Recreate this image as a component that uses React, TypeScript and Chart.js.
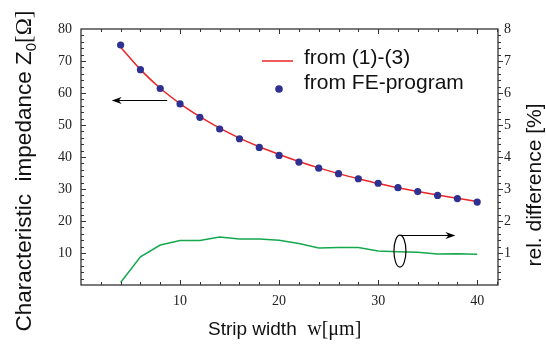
import React, { useEffect, useRef } from "react";
import { Chart, registerables } from "chart.js";

Chart.register(...registerables);

// Strip width w [µm]
const widths = [4, 6, 8, 10, 12, 14, 16, 18, 20, 22, 24, 26, 28, 30, 32, 34, 36, 38, 40];
// Z0 from FE-program [Ω]
const feImpedance = [75.0, 67.3, 61.4, 56.6, 52.4, 48.75, 45.7, 43.0, 40.5, 38.4, 36.5, 34.8, 33.2, 31.8, 30.4, 29.2, 28.0, 27.0, 25.9];
// Z0 from (1)-(3) [Ω]
const formulaImpedance = [74.3, 67.3, 61.5, 56.7, 52.6, 49.0, 45.9, 43.2, 40.8, 38.6, 36.6, 34.8, 33.2, 31.7, 30.4, 29.2, 28.1, 27.1, 26.1];
// relative difference [%]
const relDifference = [0.08, 0.88, 1.25, 1.39, 1.39, 1.5, 1.44, 1.44, 1.4, 1.3, 1.16, 1.17, 1.17, 1.06, 1.04, 1.02, 0.97, 0.98, 0.96];

const xTickLabels = [10, 20, 30, 40];
const leftTickLabels = [10, 20, 30, 40, 50, 60, 70, 80];
const rightTickLabels = [1, 2, 3, 4, 5, 6, 7, 8];

// annotation anchors (data units)
const leftArrow = { from: 8.7, to: 3.1, y: 57.8 };
const rightArrow = { x: 32.2, to: 37.8, y: 1.56 };
const ellipseAnchor = { x: 32.2, y: 1.06 };

const RED = "#ec2427";
const BLUE = "#2e3192";
const GREEN = "#16a84e";
const FRAME = "#333333";

function arrowHead(ctx: CanvasRenderingContext2D, x: number, y: number, dir: number) {
  ctx.beginPath();
  ctx.moveTo(x, y);
  ctx.lineTo(x - dir * 10, y - 3.5);
  ctx.lineTo(x - dir * 7, y);
  ctx.lineTo(x - dir * 10, y + 3.5);
  ctx.closePath();
  ctx.fill();
}

const decorPlugin = {
  id: "decor",
  afterDraw(chart: any) {
    const ctx: CanvasRenderingContext2D = chart.ctx;
    const { left, right, top, bottom } = chart.chartArea;
    const sx = chart.scales.x;
    const sy = chart.scales.y;
    const sy2 = chart.scales.y2;
    ctx.save();
    // frame
    ctx.strokeStyle = FRAME;
    ctx.lineWidth = 1.3;
    ctx.strokeRect(left, top, right - left, bottom - top);
    ctx.lineWidth = 1;
    ctx.beginPath();
    for (let v = 2; v <= 42; v += 2) {
      const px = Math.round(sx.getPixelForValue(v)) + 0.5;
      const len = v % 10 === 0 ? 5 : 3;
      ctx.moveTo(px, bottom);
      ctx.lineTo(px, bottom - len);
      ctx.moveTo(px, top);
      ctx.lineTo(px, top + len);
    }
    for (let v = 2; v < 80; v += 2) {
      const py = Math.round(sy.getPixelForValue(v)) + 0.5;
      const len = v % 10 === 0 ? 5 : 3;
      ctx.moveTo(left, py);
      ctx.lineTo(left + len, py);
    }
    for (let i = 1; i < 40; i++) {
      const v = i * 0.2;
      const py = Math.round(sy2.getPixelForValue(v)) + 0.5;
      const len = i % 5 === 0 ? 5 : 3;
      ctx.moveTo(right, py);
      ctx.lineTo(right + len, py);
    }
    ctx.stroke();

    // annotations
    ctx.strokeStyle = "#000";
    ctx.fillStyle = "#000";
    ctx.lineWidth = 1.2;
    const la0 = sx.getPixelForValue(leftArrow.from);
    const la1 = sx.getPixelForValue(leftArrow.to);
    const lay = Math.round(sy.getPixelForValue(leftArrow.y)) + 0.5;
    ctx.beginPath();
    ctx.moveTo(la0, lay);
    ctx.lineTo(la1 + 6, lay);
    ctx.stroke();
    arrowHead(ctx, la1, lay, -1);

    const ex = sx.getPixelForValue(ellipseAnchor.x);
    const ey = sy2.getPixelForValue(ellipseAnchor.y);
    ctx.beginPath();
    ctx.ellipse(ex, ey, 6, 16, 0, 0, Math.PI * 2);
    ctx.stroke();
    const ra0 = sx.getPixelForValue(rightArrow.x);
    const ra1 = sx.getPixelForValue(rightArrow.to);
    const ray = Math.round(sy2.getPixelForValue(rightArrow.y)) + 0.5;
    ctx.beginPath();
    ctx.moveTo(ra0, ray);
    ctx.lineTo(ra1 - 6, ray);
    ctx.stroke();
    arrowHead(ctx, ra1, ray, 1);

    // legend
    ctx.strokeStyle = RED;
    ctx.lineWidth = 1.5;
    ctx.beginPath();
    ctx.moveTo(262, 61);
    ctx.lineTo(293, 61);
    ctx.stroke();
    ctx.fillStyle = BLUE;
    ctx.beginPath();
    ctx.arc(279, 89, 3.8, 0, Math.PI * 2);
    ctx.fill();
    ctx.fillStyle = "#111";
    ctx.font = "21px 'Liberation Sans', Arial, sans-serif";
    ctx.textAlign = "left";
    ctx.textBaseline = "alphabetic";
    ctx.fillText("from (1)-(3)", 304, 64);
    ctx.fillText("from FE-program", 304, 89);

    // x title
    ctx.font = "19px 'Liberation Sans', Arial, sans-serif";
    ctx.fillStyle = "#111";
    const t1 = "Strip width  ";
    ctx.fillText(t1, 208, 335);
    const w1 = ctx.measureText(t1).width;
    ctx.font = "20px 'Liberation Serif', 'Times New Roman', serif";
    ctx.fillText("w[μm]", 208 + w1, 335);

    // left title (rotated)
    ctx.save();
    ctx.translate(31, 0);
    ctx.rotate(-Math.PI / 2);
    const parts: [string, string, number][] = [
      ["Characteristic  impedance Z", "22.5px 'Liberation Sans', Arial, sans-serif", 0],
      ["0", "15px 'Liberation Sans', Arial, sans-serif", 5],
      ["[Ω]", "23px 'Liberation Serif', 'Times New Roman', serif", 0],
    ];
    let total = 0;
    for (const [t, f] of parts) {
      ctx.font = f;
      total += ctx.measureText(t).width;
    }
    let pos = -171 - total / 2;
    for (const [t, f, dy] of parts) {
      ctx.font = f;
      ctx.fillText(t, pos, dy);
      pos += ctx.measureText(t).width;
    }
    ctx.restore();

    // right title (rotated)
    ctx.save();
    ctx.translate(541, 0);
    ctx.rotate(-Math.PI / 2);
    ctx.font = "21px 'Liberation Sans', Arial, sans-serif";
    ctx.textAlign = "center";
    ctx.fillText("rel. difference [%]", -185, 0);
    ctx.restore();

    ctx.restore();
  },
};

export default function App() {
  const ref = useRef<HTMLCanvasElement>(null);
  useEffect(() => {
    if (!ref.current) return;
    const tickFont = { family: "'Liberation Serif', 'Times New Roman', serif", size: 14 };
    const chart = new Chart(ref.current, {
      type: "line",
      data: {
        labels: widths,
        datasets: [
          {
            label: "from (1)-(3)",
            data: widths.map((w, i) => ({ x: w, y: formulaImpedance[i] })),
            borderColor: RED,
            borderWidth: 1.5,
            pointRadius: 0,
            cubicInterpolationMode: "monotone",
            yAxisID: "y",
            order: 2,
          },
          {
            label: "from FE-program",
            data: widths.map((w, i) => ({ x: w, y: feImpedance[i] })),
            showLine: false,
            pointRadius: 3.6,
            pointBackgroundColor: BLUE,
            pointBorderColor: BLUE,
            pointBorderWidth: 0,
            yAxisID: "y",
            order: 1,
          },
          {
            label: "rel. difference",
            data: widths.map((w, i) => ({ x: w, y: relDifference[i] })),
            borderColor: GREEN,
            borderWidth: 1.5,
            pointRadius: 0,
            tension: 0,
            yAxisID: "y2",
            order: 3,
          },
        ],
      },
      options: {
        responsive: false,
        animation: false,
        layout: { padding: { top: 29, left: 0, right: 0, bottom: 0 } },
        plugins: { legend: { display: false }, tooltip: { enabled: false } },
        scales: {
          x: {
            type: "linear",
            min: 0,
            max: 42.1,
            grid: { display: false, drawTicks: false },
            border: { display: false },
            ticks: {
              stepSize: 10,
              includeBounds: false,
              padding: 8,
              font: tickFont,
              color: "#222",
              maxRotation: 0,
              callback: (v: any) => (xTickLabels.includes(Number(v)) ? String(v) : ""),
            },
            afterFit: (s: any) => {
              s.height = 59;
            },
          },
          y: {
            position: "left",
            min: 0,
            max: 80,
            grid: { display: false, drawTicks: false },
            border: { display: false },
            ticks: {
              stepSize: 10,
              padding: 9,
              font: tickFont,
              color: "#222",
              callback: (v: any) => (leftTickLabels.includes(Number(v)) ? String(v) : ""),
            },
            afterFit: (s: any) => {
              s.width = 81;
            },
          },
          y2: {
            position: "right",
            min: 0,
            max: 8,
            grid: { display: false, drawTicks: false },
            border: { display: false },
            ticks: {
              stepSize: 1,
              padding: 6,
              font: tickFont,
              color: "#222",
              callback: (v: any) => (rightTickLabels.includes(Number(v)) ? String(v) : ""),
            },
            afterFit: (s: any) => {
              s.width = 48;
            },
          },
        },
      },
      plugins: [decorPlugin],
    } as any);
    return () => chart.destroy();
  }, []);
  return (
    <div style={{ position: "fixed", left: 0, top: 0, width: 546, height: 344, background: "#fff" }}>
      <canvas ref={ref} width={546} height={344} style={{ width: 546, height: 344 }} />
    </div>
  );
}
